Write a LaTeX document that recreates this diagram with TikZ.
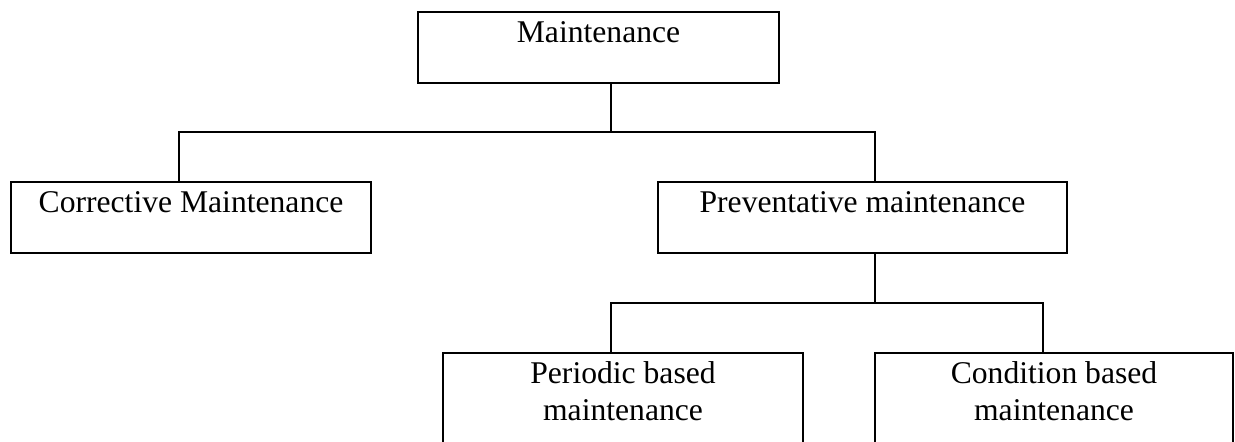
\documentclass[tikz,border=0pt]{standalone}
\usepackage{fontspec}
\setmainfont{Liberation Serif}
\usetikzlibrary{positioning,calc}

\tikzset{
    box/.style={draw, line width=1.1pt, anchor=north, inner xsep=0pt, inner ysep=0pt,
        align=center, font=\fontsize{18}{21.6}\selectfont,
        text height=0.62cm, text depth=0.8cm},
    tallbox/.style={box, text height=1.36cm, text depth=1.2cm},
    link/.style={line width=1.1pt}
}

\begin{document}
\begin{tikzpicture}[x=0.02cm, y=-0.02cm]
    % Page frame
    \useasboundingbox (0,0) rectangle (1235,441);
    \clip (0,0) rectangle (1235,441);

    % Boxes
    \node[box, minimum width=7.22cm] (main) at (598.5,11) {Maintenance};
    \node[box, minimum width=7.2cm] (corr) at (191,181) {Corrective Maintenance};
    \node[box, minimum width=8.18cm] (prev) at (862.5,181) {Preventative maintenance};
    \node[tallbox, minimum width=7.2cm] (peri) at (623,352) {Periodic based\\maintenance};
    \node[tallbox, minimum width=7.16cm] (cond) at (1054,352) {Condition based\\maintenance};

    % Branch points
    \coordinate (t1) at (611,132);
    \coordinate (l1) at (179,132);
    \coordinate (r1) at (875,132);
    \coordinate (t2) at (875,303);
    \coordinate (l2) at (611,303);
    \coordinate (r2) at (1043,303);

    % First level
    \draw[link] (main.south -| t1) -- (t1);
    \draw[link] (corr.north -| l1) -- (l1) -- (r1) -- (prev.north -| r1);

    % Second level
    \draw[link] (prev.south -| t2) -- (t2);
    \draw[link] (peri.north -| l2) -- (l2) -- (r2) -- (cond.north -| r2);
\end{tikzpicture}
\end{document}
